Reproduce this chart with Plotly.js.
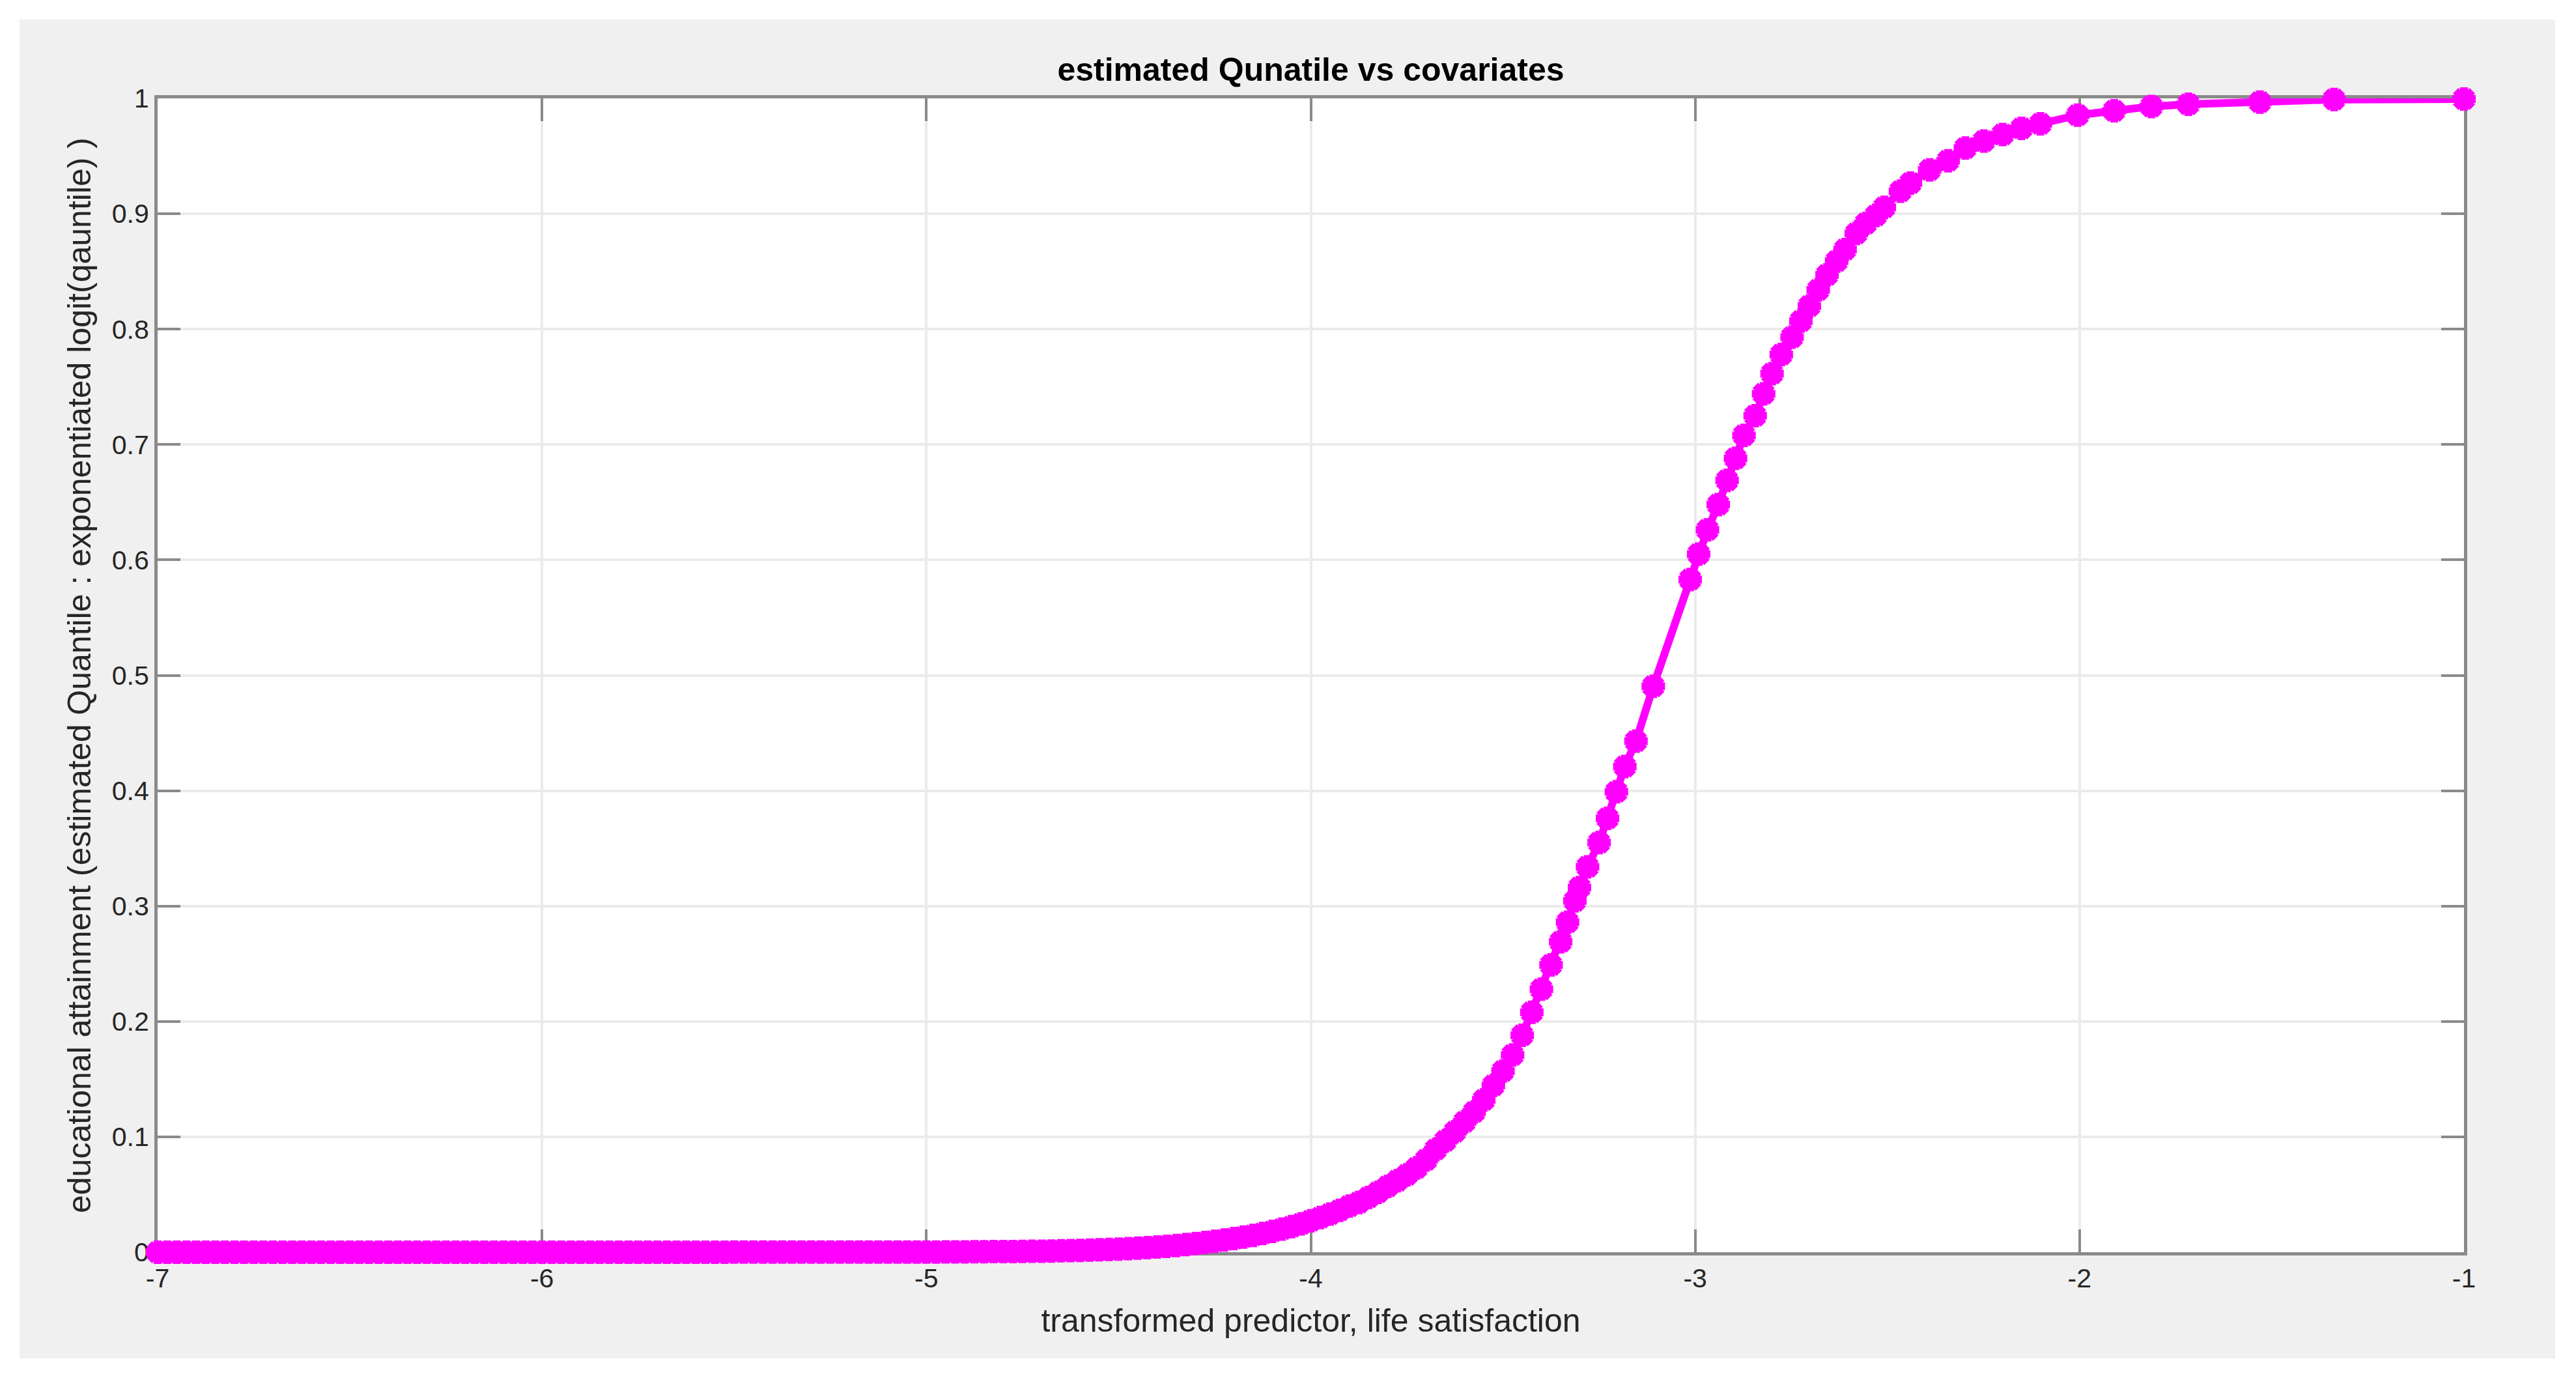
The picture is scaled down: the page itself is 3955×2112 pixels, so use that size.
<!DOCTYPE html>
<html>
<head>
<meta charset="utf-8">
<script src="https://cdn.plot.ly/plotly-3.0.1.min.js"></script>
<style>
  body { margin: 0; background: #ffffff; }
  #chart { position: absolute; left: 30px; top: 30px; width: 3893px; height: 2055px; }
</style>
</head>
<body>
<div id="chart"></div>
<script>
// transformed predictor (x) and estimated quantile (y)
const predictor = [
  -7.000, -6.975, -6.950, -6.925, -6.900, -6.875, -6.850, -6.825, -6.800, -6.775,
  -6.750, -6.725, -6.700, -6.675, -6.650, -6.625, -6.600, -6.575, -6.550, -6.525,
  -6.500, -6.475, -6.450, -6.425, -6.400, -6.375, -6.350, -6.325, -6.300, -6.275,
  -6.250, -6.225, -6.200, -6.175, -6.150, -6.125, -6.100, -6.075, -6.050, -6.025,
  -6.000, -5.975, -5.950, -5.925, -5.900, -5.875, -5.850, -5.825, -5.800, -5.775,
  -5.750, -5.725, -5.700, -5.675, -5.650, -5.625, -5.600, -5.575, -5.550, -5.525,
  -5.500, -5.475, -5.450, -5.425, -5.400, -5.375, -5.350, -5.325, -5.300, -5.275,
  -5.250, -5.225, -5.200, -5.175, -5.150, -5.125, -5.100, -5.075, -5.050, -5.025,
  -5.000, -4.975, -4.950, -4.925, -4.900, -4.875, -4.850, -4.825, -4.800, -4.775,
  -4.750, -4.725, -4.700, -4.675, -4.650, -4.625, -4.600, -4.575, -4.550, -4.525,
  -4.500, -4.475, -4.450, -4.425, -4.400, -4.375, -4.350, -4.325, -4.300, -4.275,
  -4.250, -4.225, -4.200, -4.175, -4.150, -4.125, -4.100, -4.075, -4.050, -4.025,
  -4.000, -3.975, -3.950, -3.925, -3.900, -3.875, -3.850, -3.825, -3.800, -3.775,
  -3.750, -3.725, -3.700, -3.675, -3.650, -3.625, -3.600, -3.575, -3.550, -3.525,
  -3.500, -3.475, -3.450, -3.425, -3.400, -3.375, -3.350,
  -3.332, -3.313, -3.301, -3.280, -3.250, -3.228, -3.205, -3.183, -3.154, -3.109,
  -3.013, -2.991, -2.968, -2.940, -2.917, -2.895, -2.873, -2.844, -2.822, -2.800,
  -2.776, -2.748, -2.725, -2.703, -2.680, -2.657, -2.632, -2.610, -2.581, -2.556,
  -2.530, -2.508, -2.466, -2.440, -2.390, -2.342, -2.297, -2.249, -2.200, -2.151,
  -2.102, -2.005, -1.910, -1.813, -1.717, -1.531, -1.338, -1.000
];

const quantile = [
  0, 0, 0, 0, 0, 0, 0, 0, 0, 0,
  0, 0, 0, 0, 0, 0, 0, 0, 0, 0,
  0, 0, 0, 0, 0, 0, 0, 0, 0, 0,
  0, 0, 0, 0, 0, 0, 0, 0, 0, 0,
  0, 0, 0, 0, 0, 0, 0, 0, 0, 0,
  0, 0, 0, 0, 0, 0, 0, 0, 0, 0,
  0.0001, 0.0001, 0.0001, 0.0001, 0.0001, 0.0001, 0.0001, 0.0001, 0.0001, 0.0001,
  0.0001, 0.0001, 0.0001, 0.0002, 0.0002, 0.0002, 0.0002, 0.0002, 0.0002, 0.0002,
  0.0002, 0.0002, 0.0003, 0.0003, 0.0003, 0.0004, 0.0004, 0.0005, 0.0005, 0.0006,
  0.0007, 0.0008, 0.0009, 0.0010, 0.0012, 0.0014, 0.0016, 0.0018, 0.0021, 0.0024,
  0.0027, 0.0031, 0.0035, 0.0040, 0.0045, 0.0051, 0.0058, 0.0066, 0.0075, 0.0084,
  0.0094, 0.0106, 0.0118, 0.0131, 0.0146, 0.0162, 0.0180, 0.0200, 0.0222, 0.0246,
  0.0272, 0.0300, 0.0330, 0.0363, 0.0400, 0.0430, 0.0475, 0.0520, 0.0570, 0.0620,
  0.0670, 0.0730, 0.0800, 0.0890, 0.0965, 0.1045, 0.1130, 0.1215, 0.1320, 0.1445,
  0.1570, 0.1710, 0.1880, 0.2080, 0.2280, 0.2490, 0.2690,
  0.286, 0.3045, 0.316, 0.334, 0.355, 0.376, 0.399, 0.421, 0.443, 0.4905,
  0.583, 0.605, 0.626, 0.648, 0.669, 0.688, 0.708, 0.725, 0.744, 0.7615,
  0.778, 0.793, 0.807, 0.820, 0.834, 0.847, 0.859, 0.869, 0.883, 0.8916,
  0.8985, 0.9055, 0.9195, 0.9266, 0.938, 0.946, 0.957, 0.963, 0.9686, 0.974,
  0.978, 0.9855, 0.9893, 0.993, 0.9949, 0.9968, 0.999, 0.9995
];

const xTickVals = [-7, -6, -5, -4, -3, -2, -1];
const xTickText = ['-7', '-6', '-5', '-4', '-3', '-2', '-1'];
const yTickVals = [0, 0.1, 0.2, 0.3, 0.4, 0.5, 0.6, 0.7, 0.8, 0.9, 1];
const yTickText = ['0', '0.1', '0.2', '0.3', '0.4', '0.5', '0.6', '0.7', '0.8', '0.9', '1'];

const axisColor = '#8a8a8a';
const fontFamily = 'Liberation Sans, Arial, sans-serif';
const labelFont = { family: fontFamily, size: 41, color: '#262626' };

const data = [{
    type: 'scatter',
    mode: 'lines+markers',
    x: predictor,
    y: quantile,
    line: { color: '#ff00ff', width: 12 },
    marker: {
        symbol: 'asterisk-open',
        size: 30,
        color: '#ff00ff',
        line: { color: '#ff00ff', width: 12 }
    },
    cliponaxis: false,
    showlegend: false,
    hoverinfo: 'x+y'
}];

const layout = {
    width: 3893,
    height: 2055,
    paper_bgcolor: '#f0f0f0',
    plot_bgcolor: '#ffffff',
    margin: { l: 212, r: 140, t: 121, b: 163, pad: 0 },
    title: {
        text: '<b>estimated Qunatile vs covariates</b>',
        font: { family: fontFamily, size: 50, color: '#000000' },
        x: 0.5,
        xref: 'paper',
        y: 1 - 76 / 2055,
        yref: 'container',
        yanchor: 'middle'
    },
    xaxis: {
        range: [-7, -1],
        tickvals: xTickVals,
        ticktext: xTickText,
        showgrid: true,
        gridcolor: '#ebebeb',
        gridwidth: 4,
        zeroline: false,
        showline: true,
        linecolor: axisColor,
        linewidth: 5,
        mirror: 'ticks',
        ticks: 'inside',
        ticklen: 35,
        tickwidth: 4,
        tickcolor: axisColor,
        tickfont: labelFont,
        layer: 'below traces',
        automargin: false,
        title: {
            text: 'transformed predictor, life satisfaction',
            font: { family: fontFamily, size: 50, color: '#262626' },
            standoff: 26
        }
    },
    yaxis: {
        range: [0, 1],
        tickvals: yTickVals,
        ticktext: yTickText,
        showgrid: true,
        gridcolor: '#ebebeb',
        gridwidth: 4,
        zeroline: false,
        showline: true,
        linecolor: axisColor,
        linewidth: 5,
        mirror: 'ticks',
        ticks: 'inside',
        ticklen: 35,
        tickwidth: 4,
        tickcolor: axisColor,
        tickfont: labelFont,
        layer: 'below traces',
        automargin: false,
        title: {
            text: 'educational attainment (estimated Quantile : exponentiated logit(qauntile) )',
            font: { family: fontFamily, size: 50, color: '#262626' },
            standoff: 18
        }
    }
};

const config = { displayModeBar: false, responsive: false };

Plotly.newPlot('chart', data, layout, config);
</script>
</body>
</html>
